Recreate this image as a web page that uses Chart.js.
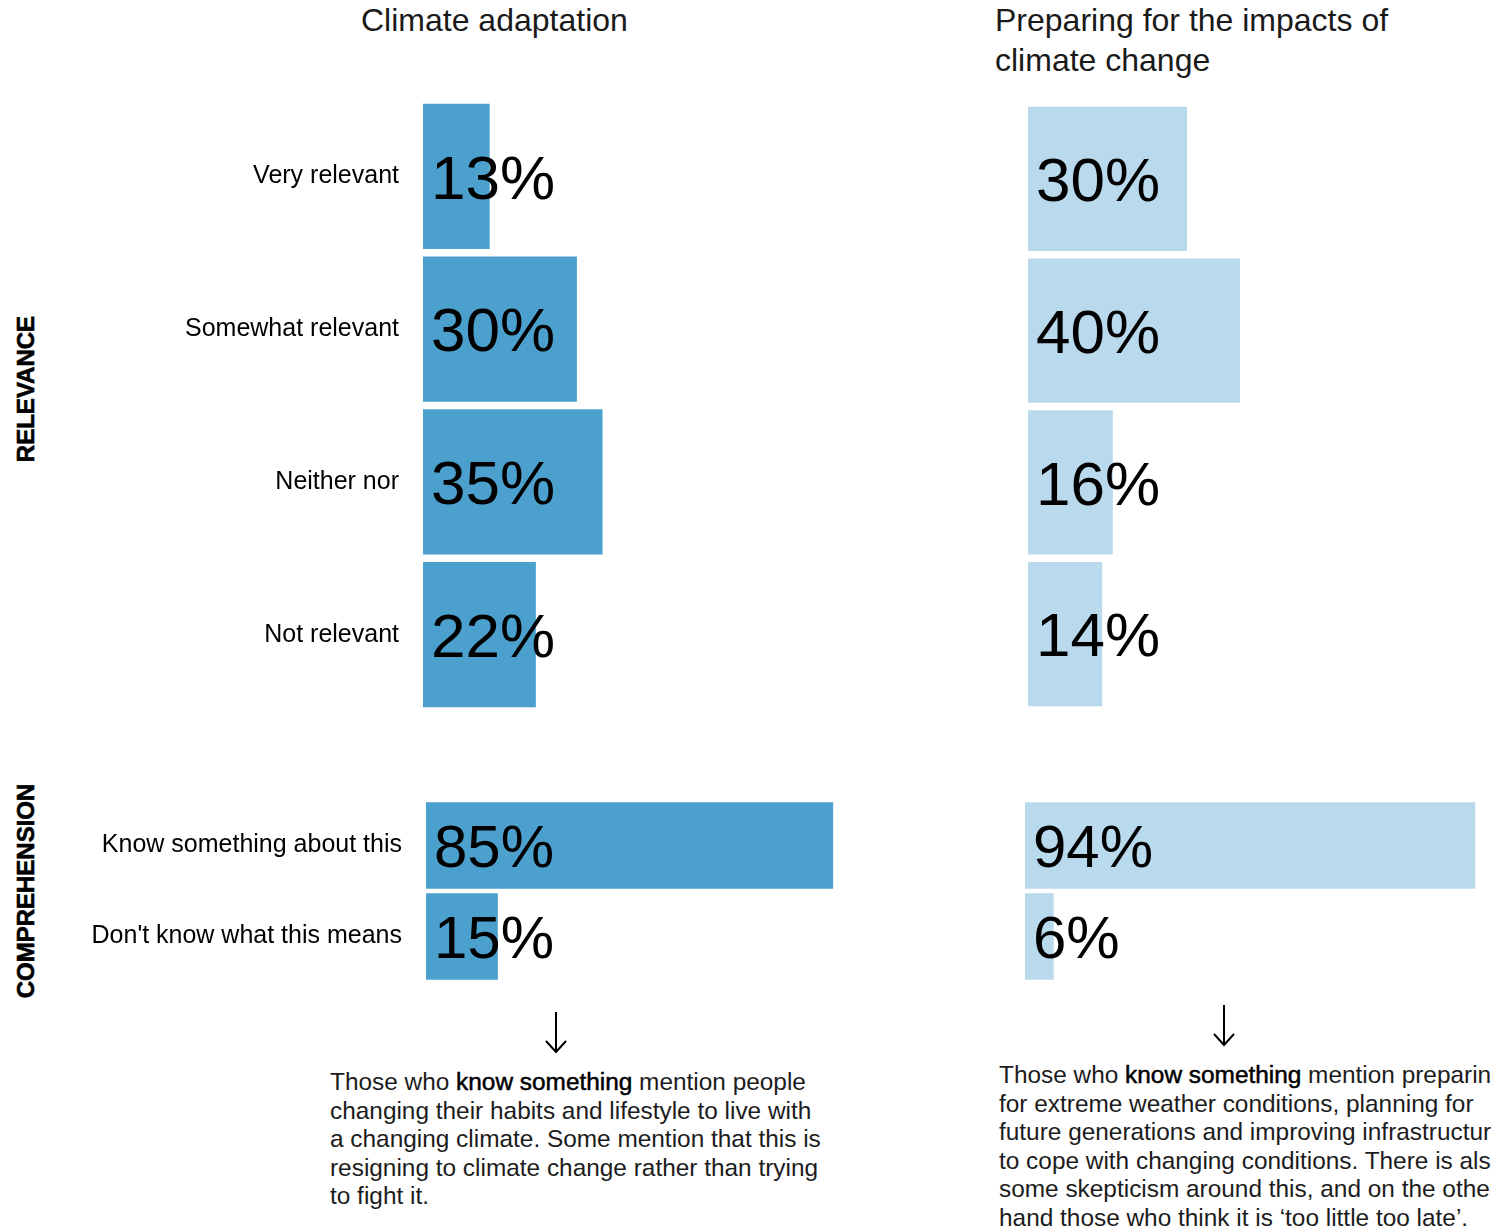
<!DOCTYPE html>
<html>
<head>
<meta charset="utf-8">
<script src="https://cdn.jsdelivr.net/npm/chart.js@4.4.1/dist/chart.umd.min.js"></script>
<style>
  body {
    margin: 0;
    width: 1491px;
    height: 1232px;
    overflow: hidden;
    position: relative;
    background: #fff;
    font-family: "Liberation Sans", Arial, sans-serif;
    color: #000;
  }
  .abs { position: absolute; }
  .title { font-size: 32px; line-height: 40px; color: #1a1a1a; white-space: nowrap; }
  .side {
    font-size: 24px;
    font-weight: bold;
    -webkit-text-stroke: 0.6px #000;
    white-space: nowrap;
    transform: translate(-50%, -50%) rotate(-90deg);
  }
  .note { font-size: 24.4px; line-height: 28.6px; color: #1c1c1c; white-space: nowrap; }
  .note b { color: #000; font-weight: normal; -webkit-text-stroke: 0.5px #000; }
  canvas { position: absolute; }
</style>
</head>
<body>

<div class="abs title" style="left:361px; top:0px;">Climate adaptation</div>
<div class="abs title" style="left:995px; top:0px;">Preparing for the impacts of<br>climate change</div>

<div class="abs side" style="left:26px; top:389px;">RELEVANCE</div>
<div class="abs side" style="left:26px; top:891px;">COMPREHENSION</div>

<canvas id="adapt-relevance" width="936" height="611" style="left:0px; top:100px;"></canvas>
<canvas id="impacts-relevance" width="530" height="607" style="left:1028px; top:103px;"></canvas>
<canvas id="adapt-comprehension" width="905" height="182" style="left:0px; top:800px;"></canvas>
<canvas id="impacts-comprehension" width="479" height="182" style="left:1025px; top:800px;"></canvas>

<svg class="abs" style="left:540px; top:1008px;" width="32" height="48">
  <path d="M16 4 V44 M6 33 L16 44 L26 33" stroke="#000" stroke-width="2" fill="none"/>
</svg>
<svg class="abs" style="left:1208px; top:1001px;" width="32" height="48">
  <path d="M16 4 V44 M6 33 L16 44 L26 33" stroke="#000" stroke-width="2" fill="none"/>
</svg>

<div class="abs note" style="left:330px; top:1068px;">
  Those who <b>know something</b> mention people<br>
  changing their habits and lifestyle to live with<br>
  a changing climate. Some mention that this is<br>
  resigning to climate change rather than trying<br>
  to fight it.
</div>
<div class="abs note" style="left:999px; top:1061px;">
  Those who <b>know something</b> mention preparing<br>
  for extreme weather conditions, planning for<br>
  future generations and improving infrastructure<br>
  to cope with changing conditions. There is also<br>
  some skepticism around this, and on the other<br>
  hand those who think it is ‘too little too late’.
</div>

<script>
// data
const relevanceLabels = ["Very relevant", "Somewhat relevant", "Neither nor", "Not relevant"];
const adaptationRelevance = [13, 30, 35, 22];
const impactsRelevance = [30, 40, 16, 14];

const comprehensionLabels = ["Know something about this", "Don't know what this means"];
const adaptationComprehension = [85, 15];
const impactsComprehension = [94, 6];

const darkBlue = "#4ba0cd";
const lightBlue = "#b9d9ec";
const fontFamily = '"Liberation Sans", Arial, sans-serif';

// big percentage numbers inside the bars
const valueLabels = {
  id: "valueLabels",
  afterDatasetsDraw(chart, args, opts) {
    const ctx = chart.ctx;
    const meta = chart.getDatasetMeta(0);
    ctx.save();
    ctx.font = `${opts.size}px ${fontFamily}`;
    ctx.fillStyle = "#000";
    ctx.textBaseline = "alphabetic";
    meta.data.forEach((bar, i) => {
      const v = chart.data.datasets[0].data[i];
      ctx.fillText(v + "%", bar.base + opts.offset, bar.y + opts.size * 0.358);
    });
    ctx.restore();
  },
};

// build one horizontal bar chart
function barChart(id, labels, values, color, axisWidth, labelSize) {
  const ctx = document.getElementById(id);
  return new Chart(ctx, {
    type: "bar",
    data: {
      labels: labels,
      datasets: [
        {
          data: values,
          backgroundColor: color,
          borderWidth: 0,
          categoryPercentage: 1,
          barPercentage: 0.95,
        },
      ],
    },
    options: {
      indexAxis: "y",
      responsive: false,
      animation: false,
      layout: { padding: 0 },
      scales: {
        x: { min: 0, max: 100, display: false },
        y: {
          display: axisWidth > 0,
          grid: { display: false, drawTicks: false },
          border: { display: false },
          ticks: {
            color: "#000",
            padding: 24,
            font: { family: fontFamily, size: 25 },
          },
          afterFit(scale) {
            if (axisWidth > 0) scale.width = axisWidth;
            scale.paddingTop = 0;
            scale.paddingBottom = 0;
          },
        },
      },
      plugins: {
        legend: { display: false },
        tooltip: { enabled: false },
        valueLabels: { size: labelSize, offset: 8 },
      },
    },
    plugins: [valueLabels],
  });
}

barChart("adapt-relevance", relevanceLabels, adaptationRelevance, darkBlue, 423, 62);
barChart("impacts-relevance", relevanceLabels, impactsRelevance, lightBlue, 0, 62);
barChart("adapt-comprehension", comprehensionLabels, adaptationComprehension, darkBlue, 426, 60);
barChart("impacts-comprehension", comprehensionLabels, impactsComprehension, lightBlue, 0, 60);
</script>
</body>
</html>
